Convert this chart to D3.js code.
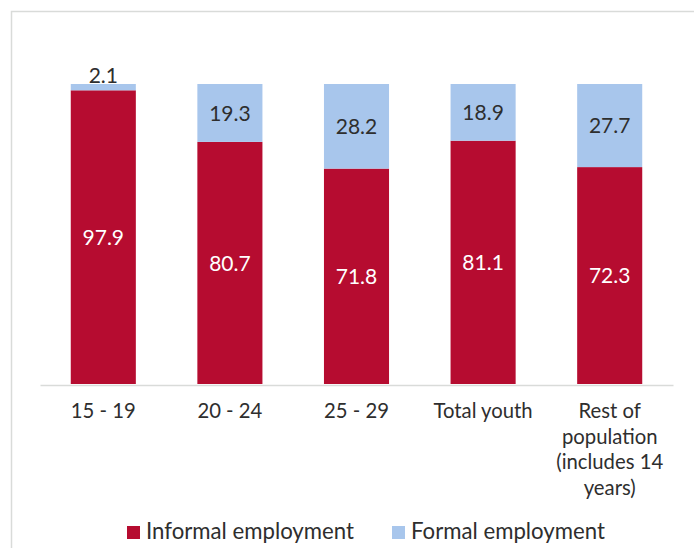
<!DOCTYPE html>
<html>
<head>
<meta charset="utf-8">
<script src="https://cdn.jsdelivr.net/npm/d3@7/dist/d3.min.js"></script>
<style>
  html, body { margin: 0; padding: 0; background: #fff; }
  svg { display: block; }
  text { font-family: Lato, "Open Sans", sans-serif; fill: #2e2e2e; }
</style>
</head>
<body>
<svg id="chart" width="694" height="548"></svg>
<script>
// Share of employment by type, per age group (%)
const categories = ["15 - 19", "20 - 24", "25 - 29", "Total youth", "Rest of population (includes 14 years)"];
const categoryLines = [["15 - 19"], ["20 - 24"], ["25 - 29"], ["Total youth"], ["Rest of", "population", "(includes 14", "years)"]];
const informal = [97.9, 80.7, 71.8, 81.1, 72.3];
const formal = [2.1, 19.3, 28.2, 18.9, 27.7];
const seriesNames = ["Informal employment", "Formal employment"];
const colors = ["#b60c30", "#a8c6ec"];

const svg = d3.select("#chart");
const W = 694, H = 548;
const margin = { left: 40, right: 21, top: 84, bottom: 164 };

// outer frame
svg.append("rect")
  .attr("x", 11.5).attr("y", 11.5)
  .attr("width", W).attr("height", H)
  .attr("fill", "none").attr("stroke", "#d9dbd9").attr("stroke-width", 1.5);

const x = d3.scaleBand()
  .domain(categories)
  .range([margin.left, W - margin.right])
  .paddingInner(0.486).paddingOuter(0.243);

const y = d3.scaleLinear()
  .domain([0, 100])
  .range([H - margin.bottom, margin.top]);

const rows = categories.map((c, i) => ({ cat: c, informal: informal[i], formal: formal[i] }));
const stack = d3.stack().keys(["informal", "formal"]);
const layers = stack(rows);

const g = svg.append("g");
layers.forEach((layer, li) => {
  g.selectAll(null)
    .data(layer)
    .join("rect")
    .attr("x", d => x(d.data.cat))
    .attr("width", x.bandwidth())
    .attr("y", d => y(d[1]))
    .attr("height", d => y(d[0]) - y(d[1]))
    .attr("fill", colors[li]);
});

// baseline axis
const axis = d3.axisBottom(x).tickSize(0).tickFormat("");
const axisG = svg.append("g")
  .attr("transform", `translate(0,${y(0) + 1})`)
  .call(axis);
axisG.select(".domain").attr("stroke", "#d9dbd9").attr("stroke-width", 1.5);

// category labels (wrapped)
categories.forEach((c, i) => {
  const t = svg.append("text")
    .attr("x", x(c) + x.bandwidth() / 2)
    .attr("y", y(0) + 34)
    .attr("text-anchor", "middle")
    .attr("font-size", 20.3);
  categoryLines[i].forEach((line, j) => {
    t.append("tspan")
      .attr("x", x(c) + x.bandwidth() / 2)
      .attr("dy", j === 0 ? 0 : 25.6)
      .text(line);
  });
});

// value labels
layers.forEach((layer, li) => {
  layer.forEach(d => {
    const v = d[1] - d[0];
    const cx = x(d.data.cat) + x.bandwidth() / 2;
    const h = y(d[0]) - y(d[1]);
    const small = h < 25;
    svg.append("text")
      .attr("x", cx)
      .attr("y", small ? y(d[1]) - 1 : (y(d[0]) + y(d[1])) / 2)
      .attr("dy", small ? 0 : "0.36em")
      .attr("text-anchor", "middle")
      .attr("font-size", 21)
      .style("fill", li === 0 && !small ? "#ffffff" : "#2e2e2e")
      .text(v.toFixed(1));
  });
});

// legend
const legend = [
  { name: seriesNames[0], color: colors[0], x: 127 },
  { name: seriesNames[1], color: colors[1], x: 392 }
];
legend.forEach(l => {
  svg.append("rect")
    .attr("x", l.x).attr("y", 526)
    .attr("width", 13).attr("height", 13)
    .attr("fill", l.color);
  svg.append("text")
    .attr("x", l.x + 19).attr("y", 539)
    .attr("font-size", 22.2)
    .text(l.name);
});
</script>
</body>
</html>
